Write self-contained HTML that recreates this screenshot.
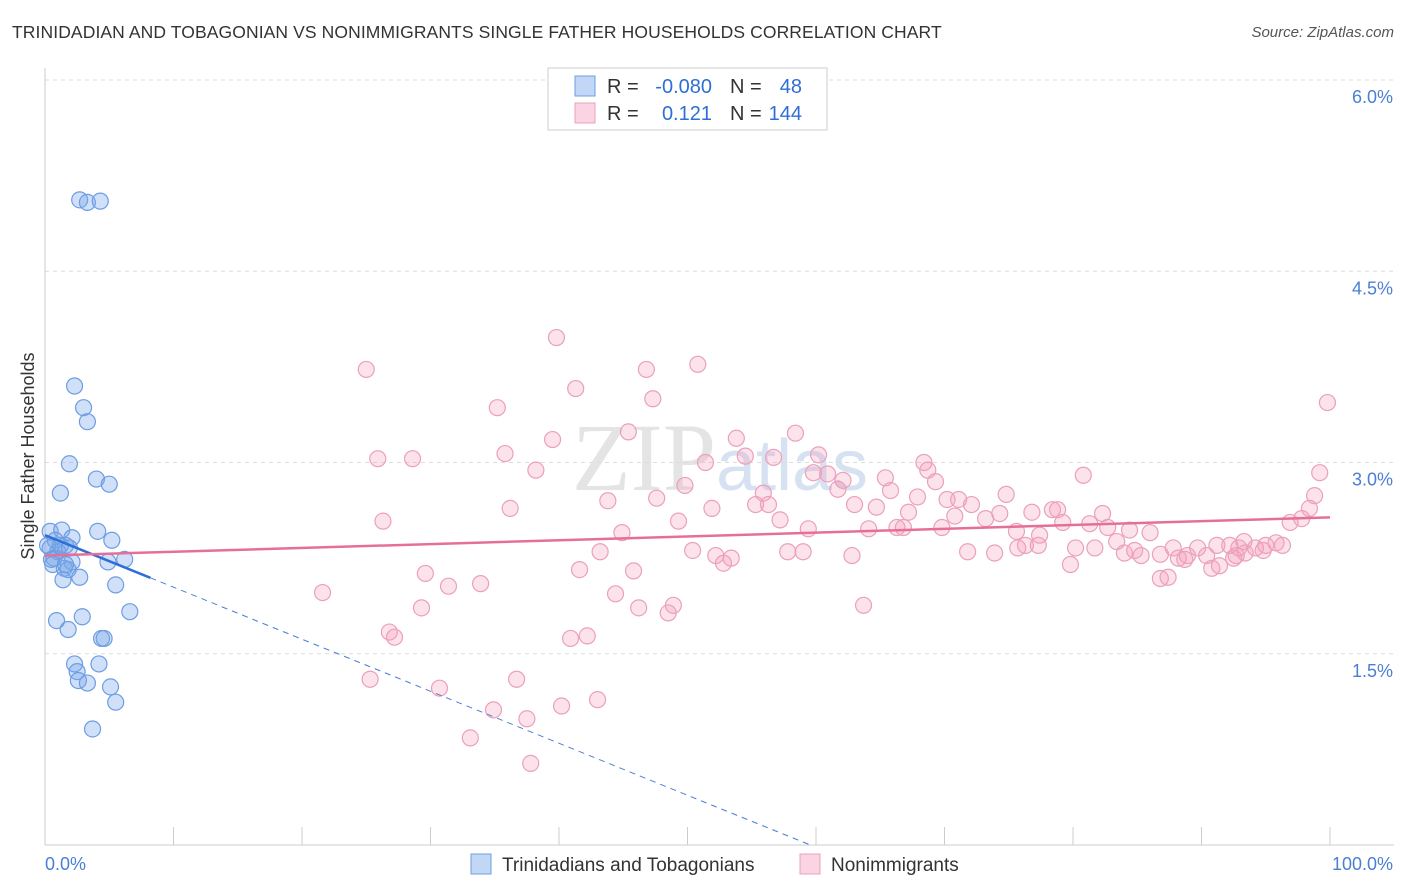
<!DOCTYPE html>
<html><head><meta charset="utf-8">
<style>
body{margin:0;background:#fff;font-family:"Liberation Sans",sans-serif;}
#wrap{position:relative;width:1406px;height:892px;overflow:hidden;}
.title{position:absolute;left:12px;top:22px;font-size:17.5px;color:#333;letter-spacing:0.1px;}
.source{position:absolute;right:12px;top:24px;font-size:15px;color:#555;font-style:italic;}
</style></head><body>
<div id="wrap">
<div class="title">TRINIDADIAN AND TOBAGONIAN VS NONIMMIGRANTS SINGLE FATHER HOUSEHOLDS CORRELATION CHART</div>
<div class="source">Source: ZipAtlas.com</div>
<svg id="chart" width="1406" height="892" style="position:absolute;left:0;top:0"></svg>
</div>
<script>
const blueX=[2.7,3.3,4.3,2.3,3.0,3.3,1.9,4.0,5.0,1.2,4.1,5.2,0.4,1.3,0.8,1.6,2.1,0.4,1.0,0.7,2.1,1.5,1.8,2.7,1.4,4.9,6.2,5.5,6.6,2.9,0.9,1.8,4.4,4.6,2.3,4.2,2.5,2.6,3.3,5.1,5.5,3.7,0.5,0.2,1.2,1.9,0.6,1.6];
const blueY=[5.06,5.04,5.05,3.60,3.43,3.32,2.99,2.87,2.83,2.76,2.46,2.39,2.46,2.47,2.39,2.35,2.41,2.33,2.30,2.25,2.22,2.17,2.16,2.10,2.08,2.22,2.24,2.04,1.83,1.79,1.76,1.69,1.62,1.62,1.42,1.42,1.36,1.29,1.27,1.24,1.12,0.91,2.24,2.35,2.35,2.33,2.20,2.20];
const pinkX=[39.8,25.0,46.8,50.8,41.3,47.3,35.2,45.4,39.5,53.8,58.4,35.8,25.9,28.6,54.5,56.7,60.2,51.4,38.2,59.8,60.9,68.4,68.7,80.8,99.2,99.8,49.8,62.1,61.7,65.4,65.8,69.3,55.9,47.6,43.8,70.2,71.1,67.9,74.8,98.8,36.2,26.3,49.3,51.9,55.3,56.3,57.2,59.4,63.0,64.7,67.2,70.8,72.1,73.2,74.3,76.8,78.4,78.8,79.2,81.3,82.3,82.7,84.4,86.0,75.6,77.4,69.8,66.3,66.8,44.9,64.1,96.9,97.8,98.4,75.7,76.3,77.3,80.2,81.7,83.4,84.0,84.8,85.3,86.8,87.8,88.2,88.9,89.7,90.4,91.2,92.2,93.3,94.2,95.0,95.8,96.3,93.4,94.8,92.5,90.8,91.4,92.7,87.4,86.8,79.8,71.8,73.9,43.2,50.4,52.2,52.8,53.4,57.8,59.0,62.8,41.6,45.8,29.6,33.9,31.4,44.4,21.6,29.3,48.9,46.2,48.5,63.7,26.8,27.2,40.9,42.2,25.3,30.7,36.7,43.0,40.2,34.9,37.5,33.1,37.8,92.9,88.7];
const pinkY=[3.98,3.73,3.73,3.77,3.58,3.50,3.43,3.24,3.18,3.19,3.23,3.07,3.03,3.03,3.05,3.04,3.06,3.00,2.94,2.92,2.91,3.00,2.94,2.90,2.92,3.47,2.82,2.86,2.79,2.88,2.78,2.85,2.76,2.72,2.70,2.71,2.71,2.73,2.75,2.74,2.64,2.54,2.54,2.64,2.67,2.67,2.55,2.48,2.67,2.65,2.61,2.58,2.67,2.56,2.60,2.61,2.63,2.63,2.53,2.52,2.60,2.49,2.47,2.45,2.46,2.43,2.49,2.49,2.49,2.45,2.48,2.53,2.56,2.64,2.33,2.35,2.35,2.33,2.33,2.38,2.29,2.31,2.27,2.28,2.33,2.25,2.27,2.33,2.27,2.35,2.35,2.38,2.33,2.35,2.37,2.35,2.29,2.31,2.25,2.17,2.19,2.27,2.10,2.09,2.20,2.30,2.29,2.30,2.31,2.27,2.21,2.25,2.30,2.30,2.27,2.16,2.15,2.13,2.05,2.03,1.97,1.98,1.86,1.88,1.86,1.82,1.88,1.67,1.63,1.62,1.64,1.30,1.23,1.30,1.14,1.09,1.06,0.99,0.84,0.64,2.33,2.24];
const yTicks=[1.5,3.0,4.5,6.0];
const yTickLabels=["1.5%","3.0%","4.5%","6.0%"];
const xTickVals=[0,10,20,30,40,50,60,70,80,90,100];
const blueTrend=[2.43,-0.0408]; // intercept, slope per %
const pinkTrend=[2.27,0.0030];

const NS="http://www.w3.org/2000/svg";
const svg=document.getElementById('chart');
const L=45,R=1330,B=845,T=80;
const xs=v=>L+v/100*(R-L);
const ys=v=>B-v/6*(B-T);
function mk(tag,attrs,parent){const e=document.createElementNS(NS,tag);for(const k in attrs)e.setAttribute(k,attrs[k]);(parent||svg).appendChild(e);return e;}

// watermark
const wm=mk('text',{x:720,y:490,'text-anchor':'middle','font-size':'96','font-family':'Liberation Serif,serif',fill:'#e4e4e4'});


wm.innerHTML='ZIP<tspan font-family="Liberation Sans,sans-serif" font-size="72" fill="#d6e2f2">atlas</tspan>';

yTicks.forEach((v,i)=>{
  const g=mk('line',{x1:L,x2:1394,y1:ys(v),y2:ys(v),stroke:'#dcdcdc','stroke-dasharray':'4,4'});
  
  
  const t=mk('text',{x:1393,y:ys(v)+23,'text-anchor':'end','font-size':'18',fill:'#4a7fd4'});
  
  
  t.textContent=yTickLabels[i];
});
const ax=mk('line',{x1:L,x2:L,y1:68,y2:B,stroke:'#ccc'});


const bx=mk('line',{x1:L,x2:1394,y1:B,y2:B,stroke:'#ccc'});


xTickVals.forEach(v=>{
  const t=mk('line',{x1:xs(v),x2:xs(v),y1:827,y2:B,stroke:'#ccc'});
  
  
});
[['0.0%',45,'start'],['100.0%',1393,'end']].forEach(a=>{
  const t=mk('text',{x:a[1],y:870,'text-anchor':a[2],'font-size':'18',fill:'#4a7fd4'});
  
  
  t.textContent=a[0];
});
const yt=mk('text',{x:34,y:456,'text-anchor':'middle','font-size':'18',fill:'#333',transform:'rotate(-90 34 456)'});


yt.textContent='Single Father Households';

pinkX.forEach((x,i)=>{
  const c=mk('circle',{cx:xs(x),cy:ys(pinkY[i]),r:8,fill:'rgba(244,160,190,0.3)',stroke:'#eba0bb','stroke-width':1.2});
  
  
});
blueX.forEach((x,i)=>{
  const c=mk('circle',{cx:xs(x),cy:ys(blueY[i]),r:8,fill:'rgba(120,165,235,0.35)',stroke:'#6d9de2','stroke-width':1.2});
  
  
});
// trend lines
const bz=-blueTrend[0]/blueTrend[1];
const bd=mk('line',{x1:xs(8.2),y1:ys(blueTrend[0]+blueTrend[1]*8.2),x2:xs(bz),y2:ys(0),stroke:'#4a7fd4','stroke-width':1,'stroke-dasharray':'6,5'});


const bs=mk('line',{x1:xs(0),y1:ys(blueTrend[0]),x2:xs(8.2),y2:ys(blueTrend[0]+blueTrend[1]*8.2),stroke:'#2e6fd6','stroke-width':2.5});


const ps=mk('line',{x1:xs(0),y1:ys(pinkTrend[0]),x2:xs(100),y2:ys(pinkTrend[0]+pinkTrend[1]*100),stroke:'#e66f9a','stroke-width':2.5});



// top legend
const lg=mk('rect',{x:548,y:68,width:279,height:62,fill:'#fff',stroke:'#ccc'});


[[86,'rgba(120,165,235,0.45)','#6d9de2','-0.080',' 48'],[113,'rgba(244,160,190,0.45)','#eba0bb','0.121','144']].forEach((r,i)=>{
  const s=mk('rect',{x:575,y:r[0]-10,width:20,height:20,fill:r[1],stroke:r[2]});
  
  
  const t=mk('text',{x:607,y:r[0]+7,'font-size':'20',fill:'#333'});
  
  
  t.innerHTML='R = <tspan x="712" text-anchor="end" fill="#2e6fd6">'+r[3]+'</tspan><tspan x="730">N = </tspan><tspan x="802" text-anchor="end" fill="#2e6fd6">'+r[4]+'</tspan>';
});
// bottom legend
[[471,'rgba(120,165,235,0.45)','#6d9de2','Trinidadians and Tobagonians'],[800,'rgba(244,160,190,0.45)','#eba0bb','Nonimmigrants']].forEach(r=>{
  const s=mk('rect',{x:r[0],y:854,width:20,height:20,fill:r[1],stroke:r[2]});
  
  
  const t=mk('text',{x:r[0]+31,y:871,'font-size':'19',fill:'#333'});
  
  
  t.textContent=r[3];
});
</script>
</body></html>
